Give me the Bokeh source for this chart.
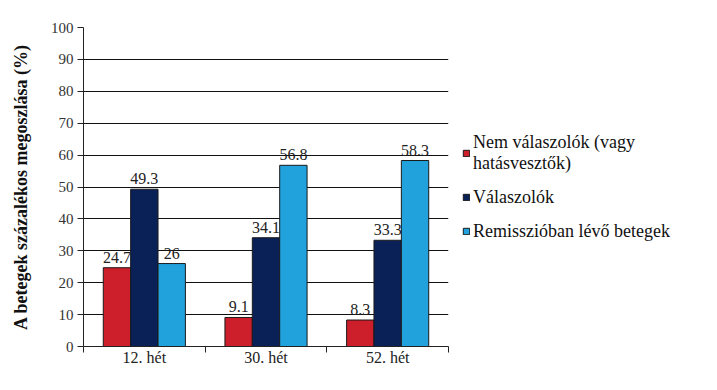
from bokeh.plotting import figure
from bokeh.models import ColumnDataSource, FixedTicker, Legend, LegendItem, Range1d, LabelSet
from bokeh.embed import file_html
from bokeh.resources import INLINE

categories = ["12. hét", "30. hét", "52. hét"]
series_names = ["Nem válaszolók (vagy\nhatásvesztők)", "Válaszolók", "Remisszióban lévő betegek"]
nem_valaszolok = [24.7, 9.1, 8.3]
valaszolok = [49.3, 34.1, 33.3]
remisszio = [26, 56.8, 58.3]
label_texts = [["24.7", "9.1", "8.3"], ["49.3", "34.1", "33.3"], ["26", "56.8", "58.3"]]
colors = ["#cc1f2b", "#0a2158", "#22a2dd"]
y_ticks = [0, 10, 20, 30, 40, 50, 60, 70, 80, 90, 100]

FONT = "Times New Roman, serif"

p = figure(frame_width=365, frame_height=319, output_backend="svg", toolbar_location=None,
           x_range=Range1d(0, 3), y_range=Range1d(0, 100),
           min_border_left=83, min_border_top=27, min_border_bottom=30, min_border_right=5)
p.outline_line_color = None
p.background_fill_color = "white"
p.border_fill_color = "white"

offsets = [-0.225, 0.0, 0.225]
width = 0.225
all_series = [nem_valaszolok, valaszolok, remisszio]
renderers = []
for k, (vals, col) in enumerate(zip(all_series, colors)):
    xs = [i + 0.5 + offsets[k] for i in range(len(categories))]
    src = ColumnDataSource(dict(x=xs, top=vals, lab=label_texts[k]))
    r = p.vbar(x="x", top="top", width=width, bottom=0, source=src,
               fill_color=col, line_color="#1a1a1a", line_width=1)
    renderers.append(r)
    ls = LabelSet(x="x", y="top", text="lab", source=src, text_align="center",
                  text_baseline="bottom", y_offset=5, text_font=FONT,
                  text_font_size="16px", text_color="#222222")
    p.add_layout(ls)

# grid
p.xgrid.visible = False
p.ygrid.ticker = FixedTicker(ticks=y_ticks)
p.ygrid.grid_line_color = "#111111"
p.ygrid.grid_line_width = 1

# y axis
p.yaxis.ticker = FixedTicker(ticks=y_ticks)
p.yaxis.axis_label = "A betegek százalékos megoszlása (%)"
p.yaxis.axis_label_text_font = FONT
p.yaxis.axis_label_text_font_style = "bold"
p.yaxis.axis_label_text_font_size = "18px"
p.yaxis.axis_label_text_color = "#111111"
p.yaxis.axis_label_standoff = 17
p.yaxis.major_label_text_font = FONT
p.yaxis.major_label_text_font_size = "15px"
p.yaxis.major_label_text_color = "#333333"
p.yaxis.major_tick_in = 0
p.yaxis.major_tick_out = 6
p.yaxis.minor_tick_line_color = None
p.yaxis.axis_line_color = "#222222"
p.yaxis.major_tick_line_color = "#222222"
p.yaxis.major_label_standoff = 4

# x axis: labels at category centers, ticks at boundaries
p.xaxis.ticker = FixedTicker(ticks=[i + 0.5 for i in range(len(categories))],
                             minor_ticks=list(range(len(categories) + 1)))
p.xaxis.major_label_overrides = {i + 0.5: c for i, c in enumerate(categories)}
p.xaxis.major_tick_in = 0
p.xaxis.major_tick_out = 0
p.xaxis.minor_tick_in = 0
p.xaxis.minor_tick_out = 6
p.xaxis.minor_tick_line_color = "#222222"
p.xaxis.axis_line_color = "#222222"
p.xaxis.major_label_text_font = FONT
p.xaxis.major_label_text_font_size = "16px"
p.xaxis.major_label_text_color = "#222222"
p.xaxis.major_label_standoff = -4

legend = Legend(items=[LegendItem(label=n, renderers=[r]) for n, r in zip(series_names, renderers)],
                location="center_left", border_line_color=None, background_fill_alpha=0,
                label_text_font=FONT, label_text_font_size="18px", label_text_color="#111111",
                glyph_width=8, glyph_height=8, label_standoff=3, spacing=13,
                margin=14, padding=4, label_text_line_height=1.3)
p.add_layout(legend, "right")

open("out.html", "w").write(file_html(p, INLINE))
